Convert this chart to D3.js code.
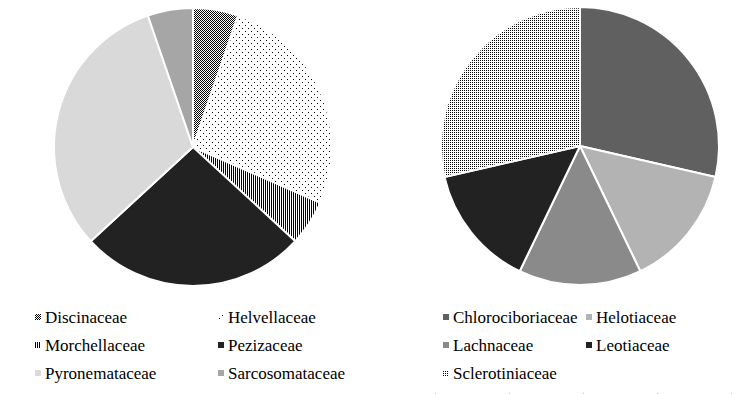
<!DOCTYPE html>
<html>
<head>
<meta charset="utf-8">
<script src="https://cdn.jsdelivr.net/npm/d3@7"></script>
<style>
  body { margin: 0; background: #fff; }
  svg { display: block; }
</style>
</head>
<body>
<svg id="chart" width="737" height="394"></svg>
<script>
'use strict'

// left pie (Pezizales)
const leftNames = ['Discinaceae', 'Helvellaceae', 'Morchellaceae', 'Pezizaceae', 'Pyronemataceae', 'Sarcosomataceae']
const leftValues = [1, 5, 1, 5, 6, 1]
const leftFills = ['url(#checker)', 'url(#sparseDots)', 'url(#vstripes)', '#222222', '#d9d9d9', '#a6a6a6']

// right pie (Helotiales)
const rightNames = ['Chlorociboriaceae', 'Helotiaceae', 'Lachnaceae', 'Leotiaceae', 'Sclerotiniaceae']
const rightValues = [2, 1, 1, 1, 2]
const rightFills = ['#606060', '#b3b3b3', '#8a8a8a', '#222222', 'url(#denseDots)']

const svg = d3.select('#chart')
const defs = svg.append('defs')

// fill patterns
const checker = defs.append('pattern').attr('id', 'checker')
    .attr('patternUnits', 'userSpaceOnUse').attr('width', 2).attr('height', 2)
checker.append('rect').attr('width', 2).attr('height', 2).attr('fill', '#fff')
checker.append('rect').attr('width', 1).attr('height', 1).attr('fill', '#000')
checker.append('rect').attr('x', 1).attr('y', 1).attr('width', 1).attr('height', 1).attr('fill', '#000')

const sparse = defs.append('pattern').attr('id', 'sparseDots')
    .attr('patternUnits', 'userSpaceOnUse').attr('width', 6).attr('height', 6)
sparse.append('rect').attr('width', 6).attr('height', 6).attr('fill', '#fff')
sparse.append('rect').attr('x', 1).attr('y', 1).attr('width', 1).attr('height', 1).attr('fill', '#000')
sparse.append('rect').attr('x', 4).attr('y', 4).attr('width', 1).attr('height', 1).attr('fill', '#000')

const stripes = defs.append('pattern').attr('id', 'vstripes')
    .attr('patternUnits', 'userSpaceOnUse').attr('width', 2).attr('height', 2)
stripes.append('rect').attr('width', 2).attr('height', 2).attr('fill', '#fff')
stripes.append('rect').attr('width', 1).attr('height', 2).attr('fill', '#000')

const dense = defs.append('pattern').attr('id', 'denseDots')
    .attr('patternUnits', 'userSpaceOnUse').attr('width', 2).attr('height', 2)
dense.append('rect').attr('width', 2).attr('height', 2).attr('fill', '#fff')
dense.append('rect').attr('width', 1).attr('height', 1).attr('fill', '#000')

const pie = d3.pie().sort(null)
const radius = 139
const arc = d3.arc().innerRadius(0).outerRadius(radius)

function drawPie(cx, cy, values, fills) {
    const g = svg.append('g').attr('transform', `translate(${cx},${cy})`)
    g.selectAll('path')
        .data(pie(values))
        .join('path')
        .attr('d', arc)
        .attr('fill', (d, i) => fills[i])
        .attr('stroke', '#fff')
        .attr('stroke-width', 2)
        .attr('stroke-linejoin', 'round')
}

drawPie(193, 147, leftValues, leftFills)
drawPie(580, 146, rightValues, rightFills)

// legends: two columns, three rows
function drawLegend(x0, colX, names, fills) {
    const rowY = d3.scalePoint().domain([0, 1, 2]).range([317, 373])
    const items = svg.append('g').selectAll('g')
        .data(names)
        .join('g')
        .attr('transform', (d, i) => `translate(${x0 + (i % 2) * colX},${rowY(Math.floor(i / 2))})`)
    items.append('rect')
        .attr('x', 0).attr('y', -3)
        .attr('width', 6).attr('height', 6)
        .attr('fill', (d, i) => fills[i])
    items.append('text')
        .attr('x', 10)
        .attr('y', 0)
        .attr('dy', '0.35em')
        .style('font-family', '"Liberation Serif"')
        .style('font-size', '17px')
        .style('fill', '#000')
        .text(d => d)
}

drawLegend(35, 183, leftNames, leftFills)
drawLegend(443, 143, rightNames, rightFills)

// faint dotted rule along the bottom right
svg.append('line')
    .attr('x1', 435).attr('x2', 737)
    .attr('y1', 393.5).attr('y2', 393.5)
    .attr('stroke', '#bbb')
    .attr('stroke-dasharray', '1,73')
</script>
</body>
</html>
